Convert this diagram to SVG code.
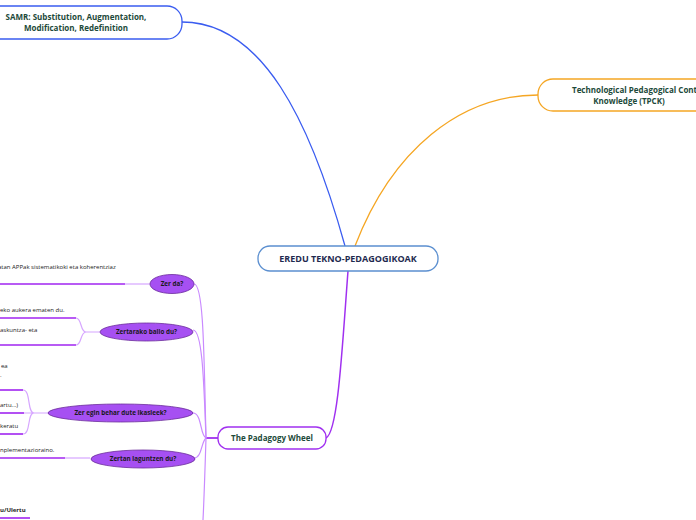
<svg xmlns="http://www.w3.org/2000/svg" width="696" height="520" viewBox="0 0 696 520">
<style>
.node{fill:#fff;stroke-width:1.3}
.t{font-family:"Open Sans","Noto Sans",sans-serif;font-weight:bold;font-size:8px;fill:#1d4a3a;text-anchor:middle}
.c{font-family:"Open Sans","Noto Sans",sans-serif;font-weight:bold;font-size:9px;fill:#1e2a4f;text-anchor:middle}
.el{fill:#a650f2;stroke:#6a2a9a;stroke-width:0.8}
.et{font-family:"Open Sans","Noto Sans",sans-serif;font-weight:bold;font-size:6.3px;fill:#1a1a1a;text-anchor:middle}
.lt{font-family:"Open Sans","Noto Sans",sans-serif;font-size:6px;fill:#222}
.dk{fill:none;stroke:#a024f0;stroke-width:1.6}
.lg{fill:none;stroke:#d6a6ff;stroke-width:1.2}
.br{fill:none;stroke:#c98aff;stroke-width:1.2}
</style>
<g id="connectors">
<path d="M182,22 C262,22 310,120 345,246" fill="none" stroke="#3a5cf0" stroke-width="1.3"/>
<path d="M538,95 C460,95 392,150 355,246" fill="none" stroke="#f5a623" stroke-width="1.3"/>
<path d="M348,271 C342,350 338,432 326,438" fill="none" stroke="#a030f0" stroke-width="1.5"/>
<path d="M218,438 L206,438" fill="none" stroke="#a030f0" stroke-width="1.8"/>
<path class="br" d="M206,438 C204,360 204,284 194,284"/>
<path class="br" d="M206,438 C204,390 203,330 193,330"/>
<path class="br" d="M206,438 C200,436 202,413 193,413"/>
<path class="br" d="M206,438 C201,442 202,458 194,458"/>
<path class="br" d="M206,438 C205,470 204,500 203,520"/>
<path class="dk" d="M0,284 L125,284"/>
<path class="lg" d="M125,284 L150,284"/>
<path class="dk" d="M0,318 L76,318"/>
<path class="dk" d="M0,345 L76,345"/>
<path class="lg" d="M76,318 C82,318 80,332 86,332 M76,345 C82,345 80,332 86,332 M86,332 L100,332"/>
<path class="dk" d="M0,390 L23,390"/>
<path class="dk" d="M0,413 L24,413"/>
<path class="dk" d="M0,434 L23,434"/>
<path class="lg" d="M23,390 C31,390 27,413 34,413 M24,413 L48,413 M23,434 C31,434 27,413 34,413"/>
<path class="dk" d="M0,458 L65,458"/>
<path class="lg" d="M65,458 L90,458"/>
<path class="dk" d="M0,518 L30,518"/>
</g>
<g id="central">
<rect class="node" x="258" y="246" width="180" height="25" rx="12" stroke="#5b8fd0"/>
<text class="c" x="348" y="262">EREDU TEKNO-PEDAGOGIKOAK</text>
</g>
<g id="samr">
<rect class="node" x="-20" y="6" width="202" height="33" rx="15" stroke="#3a5cf0"/>
<text class="t" x="76" y="20">SAMR: Substitution, Augmentation,</text>
<text class="t" x="76" y="31">Modification, Redefinition</text>
</g>
<g id="tpck">
<rect class="node" x="538" y="79" width="200" height="32" rx="15" stroke="#f5a623"/>
<text class="t" x="572" y="93" style="text-anchor:start">Technological Pedagogical Content</text>
<text class="t" x="629" y="104">Knowledge (TPCK)</text>
</g>
<g id="wheel">
<rect class="node" x="218" y="427" width="108" height="22" rx="10" stroke="#a030f0"/>
<text class="t" x="272" y="441">The Padagogy Wheel</text>
</g>
<g id="zerda">
<ellipse class="el" cx="172" cy="284" rx="22" ry="9.5"/>
<text class="et" x="172" y="286">Zer da?</text>
<text class="lt" x="-2" y="269">atan APPak sistematikoki eta koherentziaz</text>
</g>
<g id="zertarako">
<ellipse class="el" cx="146.5" cy="332" rx="46.5" ry="9"/>
<text class="et" x="146.5" y="334">Zertarako balio du?</text>
<text class="lt" x="0" y="312">eko aukera ematen du.</text>
<text class="lt" x="0" y="332">askuntza- eta</text>
</g>
<g id="zeregin">
<ellipse class="el" cx="120.5" cy="413" rx="72.5" ry="9"/>
<text class="et" x="120.5" y="415">Zer egin behar dute ikasleek?</text>
<text class="lt" x="1" y="368">ea</text>
<text class="lt" x="0" y="377">.</text>
<text class="lt" x="0" y="407">artu...)</text>
<text class="lt" x="0" y="428">keratu</text>
</g>
<g id="zertan">
<ellipse class="el" cx="143" cy="459" rx="52" ry="9"/>
<text class="et" x="143" y="461">Zertan laguntzen du?</text>
<text class="lt" x="0" y="452">nplementazioraino.</text>
</g>
<g id="bottom">
<text class="lt" x="0" y="512" style="font-weight:bold">u/Ulertu</text>
</g>
</svg>
